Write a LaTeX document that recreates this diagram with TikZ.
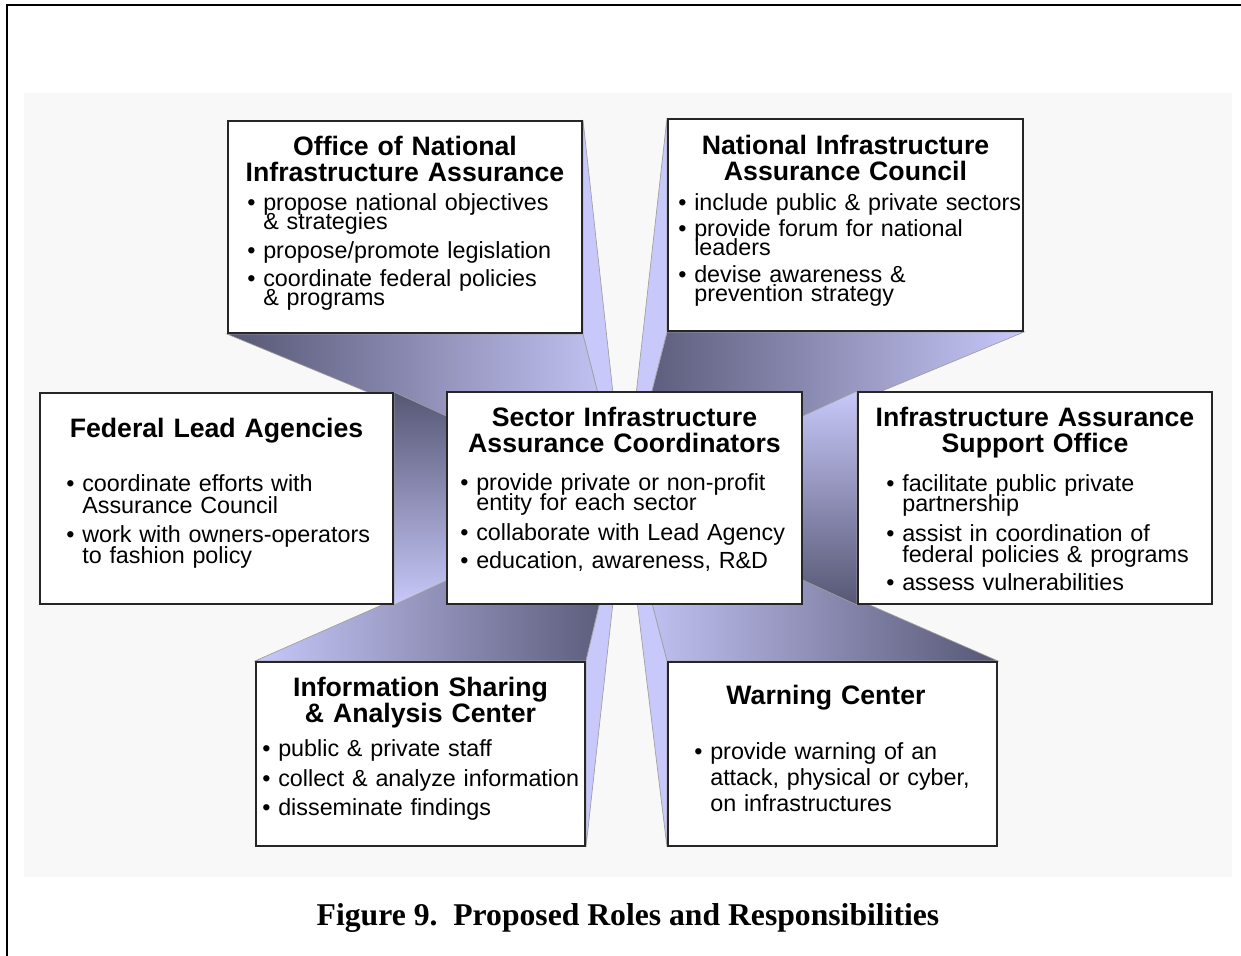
\documentclass[tikz,border=0pt]{standalone}
\usepackage{fontspec}
\setmainfont{Liberation Sans}
\newfontfamily\capfont{Liberation Serif}
\usetikzlibrary{positioning,backgrounds}

\definecolor{lav}{RGB}{200,200,250}
\definecolor{slate}{RGB}{86,86,116}
\definecolor{panel}{RGB}{248,248,248}
\newcommand{\headfont}{\fontsize{16}{15.6}\selectfont\bfseries\lineskiplimit=-20pt\relax}
\newcommand{\bodyfont}{\fontsize{14}{11.4}\selectfont\lineskiplimit=-20pt\relax}
\newcommand{\ind}{\hphantom{\textbullet\ }}

\begin{document}
\begin{tikzpicture}
	[x=0.6pt,y=-0.6pt,
	role/.style={draw=black!85,line width=1.2pt,fill=white,inner sep=0pt},
	head/.style={font=\headfont,text width=210pt,align=center,inner sep=0pt,anchor=base},
	body/.style={font=\bodyfont,text width=215pt,align=left,inner sep=0pt,anchor=base west},
	face/.style={draw=gray!75,line width=0.4pt}]
	\useasboundingbox (0,0) rectangle (1241,956);
	\draw[line width=1.2pt] (7,956) -- (7,5) -- (1241,5);

	% the seven boxes
	\node[role,minimum width=355*0.6pt,minimum height=212*0.6pt] (siac) at (624.5,498) {};
	\node[role,minimum width=354*0.6pt,minimum height=212*0.6pt] (onia) at (405,227) {};
	\node[role,minimum width=355*0.6pt,minimum height=212*0.6pt] (niac) at (845.5,225) {};
	\node[role,minimum width=353*0.6pt,minimum height=211*0.6pt] (fla) at (216.5,498.5) {};
	\node[role,minimum width=354*0.6pt,minimum height=212*0.6pt] (iaso) at (1035,498) {};
	\node[role,minimum width=329*0.6pt,minimum height=184*0.6pt] (isac) at (420.5,754) {};
	\node[role,minimum width=329*0.6pt,minimum height=184*0.6pt] (wc) at (832.5,754) {};

	% titles
	\node[head] (siac-h) at (624.5,427) {Sector Infrastructure\\Assurance Coordinators};
	\node[head] (onia-h) at (405,155.5) {Office of National\\Infrastructure Assurance};
	\node[head] (niac-h) at (845.5,155) {National Infrastructure\\Assurance Council};
	\node[head] (fla-h) at (216.5,438) {Federal Lead Agencies};
	\node[head] (iaso-h) at (1035,427) {Infrastructure Assurance\\Support Office};
	\node[head] (isac-h) at (420.5,697) {Information Sharing\\\& Analysis Center};
	\node[head] (wc-h) at (826,705) {Warning Center};

	% bullet lists
	\node[body] (siac-b) at (460,491) {\textbullet\ provide private or non-profit\\[0.6pt]\ind entity for each sector\\[6.6pt]\textbullet\ collaborate with Lead Agency\\[5.4pt]\textbullet\ education, awareness, R\&D};
	\node[body] (onia-b) at (247,211) {\textbullet\ propose national objectives\\\ind\& strategies\\[6pt]\textbullet\ propose/promote legislation\\[5.4pt]\textbullet\ coordinate federal policies\\\ind\& programs};
	\node[body] (niac-b) at (678,211) {\textbullet\ include public \& private sectors\\[4.2pt]\textbullet\ provide forum for national\\\ind leaders\\[4.8pt]\textbullet\ devise awareness \&\\\ind prevention strategy};
	\node[body] (fla-b) at (66,491.5) {\textbullet\ coordinate efforts with\\[1.8pt]\ind Assurance Council\\[6pt]\textbullet\ work with owners-operators\\[1.2pt]\ind to fashion policy};
	\node[body] (iaso-b) at (886,491.5) {\textbullet\ facilitate public private\\[0.6pt]\ind partnership\\[6.6pt]\textbullet\ assist in coordination of\\[1.2pt]\ind federal policies \& programs\\[5.4pt]\textbullet\ assess vulnerabilities};
	\node[body] (isac-b) at (262,756) {\textbullet\ public \& private staff\\[6.6pt]\textbullet\ collect \& analyze information\\[6pt]\textbullet\ disseminate findings};
	\node[body] (wc-b) at (694,759) {\textbullet\ provide warning of an\\[4.2pt]\ind attack, physical or cyber,\\[4.8pt]\ind on infrastructures};

	\node[font=\capfont\bfseries\fontsize{19}{22}\selectfont,anchor=base] (cap) at (628,925) {Figure 9.\ \ Proposed Roles and Responsibilities};

	\begin{scope}[on background layer]
	\fill[panel] (24,93) rectangle (1232,877);
	% faces running back to the centre box
	\path[face,left color=slate,right color=lav] (onia.south west) -- (onia.south east) -- (siac.center) -- cycle;
	\path[face,fill=lav] (onia.north east) -- (onia.south east) -- (siac.center) -- cycle;
	\path[face,left color=slate,right color=lav] (niac.south west) -- (niac.south east) -- (siac.center) -- cycle;
	\path[face,fill=lav] (niac.north west) -- (niac.south west) -- (siac.center) -- cycle;
	\path[face,left color=lav,right color=slate] (isac.north west) -- (isac.north east) -- (siac.center) -- cycle;
	\path[face,fill=lav] (isac.north east) -- (isac.south east) -- (siac.center) -- cycle;
	\path[face,left color=lav,right color=slate] (wc.north west) -- (wc.north east) -- (siac.center) -- cycle;
	\path[face,fill=lav] (wc.north west) -- (wc.south west) -- (siac.center) -- cycle;
	\path[face,top color=slate,bottom color=lav] (fla.north east) -- (fla.south east) -- (siac.center) -- cycle;
	\path[face,top color=lav,bottom color=slate] (iaso.north west) -- (iaso.south west) -- (siac.center) -- cycle;
	\end{scope}
\end{tikzpicture}
\end{document}
